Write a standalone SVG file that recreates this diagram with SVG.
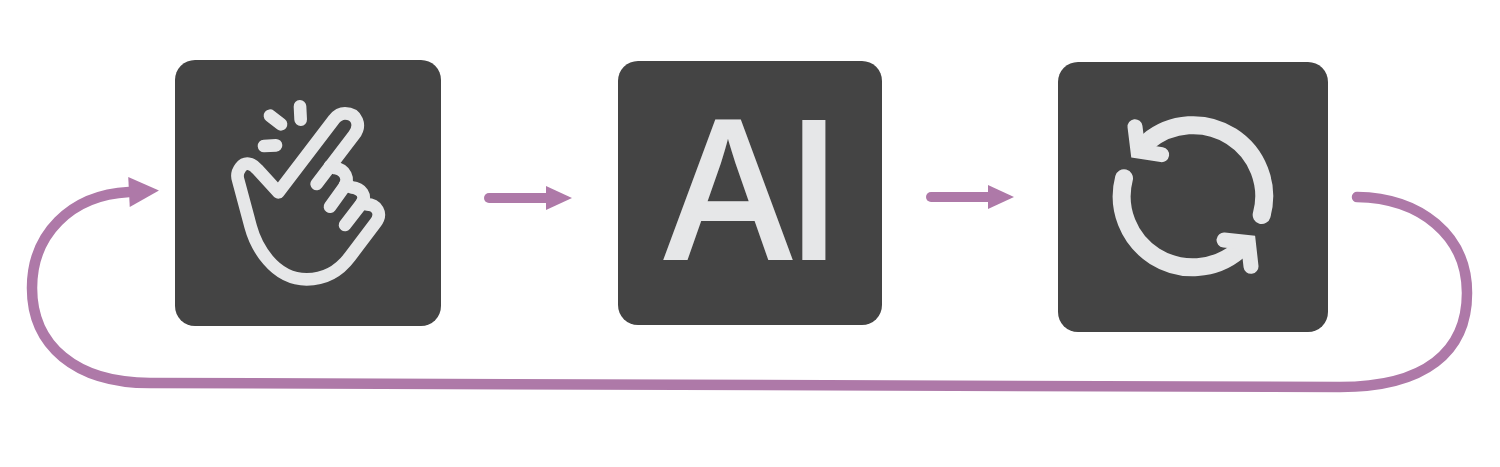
<svg xmlns="http://www.w3.org/2000/svg" width="1500" height="467" viewBox="0 0 1500 467">
<style>
.card{fill:#444444}
.ico{fill:none;stroke:#e6e7e8;stroke-linecap:round;stroke-linejoin:round}
.flow{fill:none;stroke:#ae79a8;stroke-linecap:round}
.ai{fill:#e6e7e8;font-family:"Open Sans","Liberation Sans",sans-serif;font-weight:600;font-size:196px}
</style>
<defs>
<marker id="h1" markerUnits="userSpaceOnUse" markerWidth="30" markerHeight="26" refX="0" refY="13" orient="auto" overflow="visible"><path d="M0 1L26 13L0 25Z" fill="#ae79a8"/></marker>
<marker id="h2" markerUnits="userSpaceOnUse" markerWidth="32" markerHeight="30" refX="0" refY="15" orient="auto" overflow="visible"><path d="M0 0L30 15L0 30Z" fill="#ae79a8"/></marker>
</defs>
<rect width="1500" height="467" fill="#fff"/>
<g id="connectors">
<path class="flow" stroke-width="10" d="M489 198H546" marker-end="url(#h1)"/>
<path class="flow" stroke-width="10" d="M931 197H988" marker-end="url(#h1)"/>
<path class="flow" stroke-width="10.5" d="M1357 197C1420 198 1467 235 1467 293C1467 352 1425 387 1340 387L150 383C75 383 32 345 32 288C32 235 70 195 129 192" marker-end="url(#h2)"/>
</g>
<g id="node-snap">
<rect class="card" x="175" y="60" width="266" height="266" rx="20"/>
<g class="ico" transform="translate(210 90) scale(.33333)" stroke-width="38">
<path d="M320 282L432 135C455 105 440 70 405 70C390 70 380 78 372 88L205 307L142 238C125 218 105 215 92 232C82 245 80 258 85 272L122 410C137 466 190 568 290 568C350 568 390 540 420 500L497 398C518 370 500 343 470 343L455 340"/>
<path d="M360 350L402 292C420 266 405 238 375 234L360 228"/>
<path d="M405 405L455 340C470 318 455 295 425 292L405 285"/>
<path d="M180 77L213 103M270 49L272 89M162 168L198 166"/>
</g>
</g>
<g id="node-ai">
<rect class="card" x="618" y="61" width="264" height="264" rx="20"/>
<text class="ai" x="663.3" y="260">A<tspan dx="-9">I</tspan></text>
</g>
<g id="node-refresh">
<rect class="card" x="1058" y="62" width="270" height="270" rx="20"/>
<g class="ico" transform="translate(1100 100) scale(.33333)">
<path stroke-width="54" d="M485 345A213 213 0 0 0 142 126"/>
<path stroke-width="54" d="M72 235A213 213 0 0 0 415 452"/>
<path stroke-width="45" fill="#e6e7e8" stroke-linejoin="miter" d="M105 80L114 153L185 164"/>
<path stroke-width="45" fill="#e6e7e8" stroke-linejoin="miter" d="M372 420L445 428L453 499"/>
</g>
</g>
</svg>
